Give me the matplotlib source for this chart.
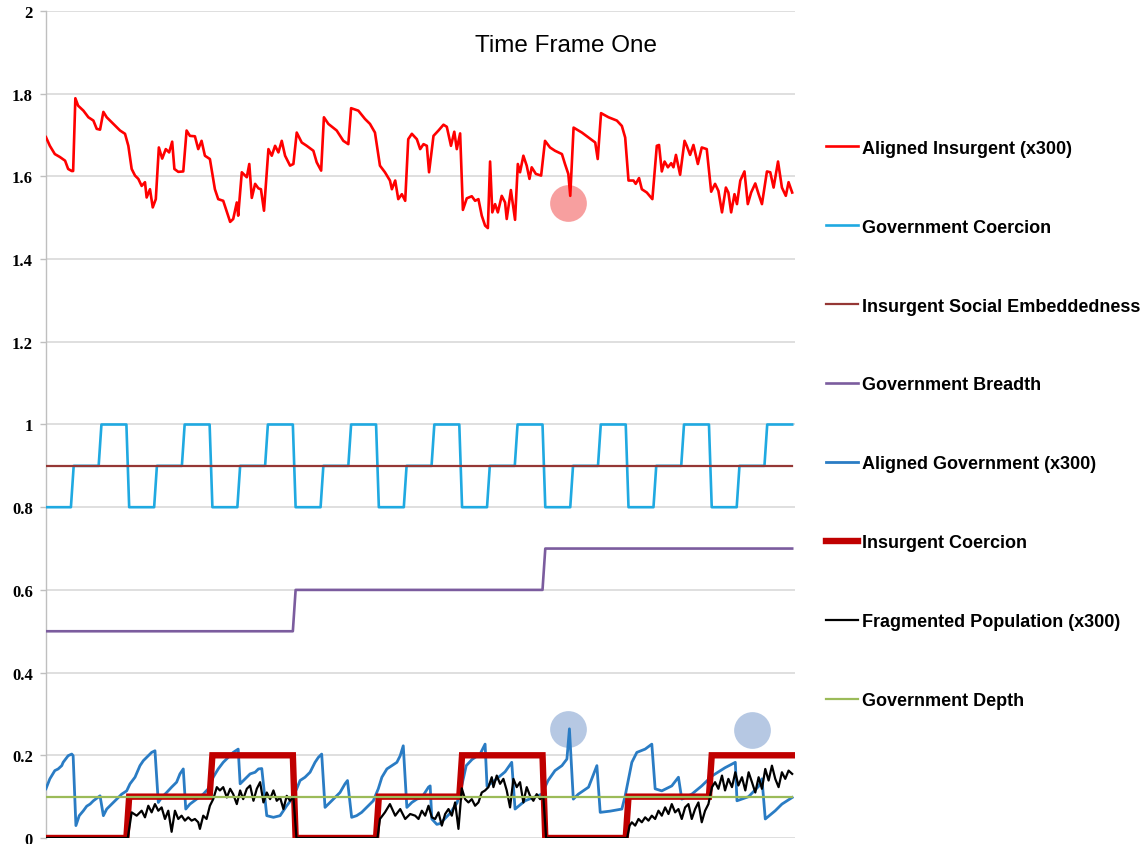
import numpy as np
import matplotlib
matplotlib.use("Agg")
import matplotlib.pyplot as plt

# ---------------- data ----------------
n_steps = 270
title = "Time Frame One"
series_names = ["Aligned Insurgent (x300)", "Government Coercion",
                "Insurgent Social Embeddedness", "Government Breadth",
                "Aligned Government (x300)", "Insurgent Coercion",
                "Fragmented Population (x300)", "Government Depth"]

# step-like policy series: one level per block of steps
gov_coercion_levels = [0.8, 0.9, 1.0, 0.8, 0.9, 1.0, 0.8, 0.9, 1.0,
                       0.8, 0.9, 1.0, 0.8, 0.9, 1.0, 0.8, 0.9, 1.0,
                       0.8, 0.9, 1.0, 0.8, 0.9, 1.0, 0.8, 0.9, 1.0]
gov_coercion_block = 10
insurgent_coercion_levels = [0.0, 0.1, 0.2, 0.0, 0.1, 0.2, 0.0, 0.1, 0.2]
insurgent_coercion_block = 30
gov_breadth_levels = [0.5, 0.6, 0.7]
gov_breadth_block = 90
social_embeddedness_level = 0.9
gov_depth_level = 0.1

# Aligned Insurgent (x300)
ai_t = [0, 1.4, 3.2, 5.0, 6.9, 8.0, 9.3, 9.8, 10.6, 11.6, 13.5, 15.3, 17.1, 18.3, 19.5,
        20.7, 21.9, 24.3, 26.7, 28.5, 29.7, 30.9, 32.1, 33.3, 34.5, 35.7, 36.3, 37.5,
        38.5, 39.6, 40.7, 41.9, 43.2, 44.4, 45.5, 46.3, 47.7, 49.5, 50.7, 51.9, 53.7,
        54.9, 56.1, 57.3, 59.1, 60.9, 62.1, 63.9, 66.4, 67.5, 68.8, 69.3, 70.6, 72.4,
        73.3, 74.2, 75.4, 76.6, 77.5, 78.6, 80.2, 81.4, 82.6, 83.8, 85.0, 86.2, 88.0,
        89.2, 90.4, 92.2, 94.0, 96.4, 97.6, 99.2, 100.2, 101.8, 104.8, 107.2, 109.0,
        110.0, 112.6, 115.0, 116.8, 118.6, 120.4, 122.2, 124.0, 124.7, 125.9, 127.0,
        128.3, 129.5, 130.6, 131.9, 133.7, 134.9, 136.1, 137.3, 138.1, 139.7, 141.5,
        143.3, 144.5, 146.0, 147.2, 148.1, 149.3, 150.3, 151.7, 153.5, 154.7, 155.9,
        157.1, 158.3, 159.3, 160.1, 160.9, 161.9, 162.9, 164.3, 165.5, 166.1, 167.6,
        169.1, 170.1, 170.9, 172.1, 173.3, 174.3, 175.1, 176.6, 178.5, 179.9, 181.7,
        183.5, 186.0, 187.1, 188.3, 189.0, 190.2, 193.2, 195.6, 198.0, 198.9, 200.1,
        202.8, 205.8, 207.6, 208.8, 210.0, 211.8, 212.6, 213.8, 214.8, 216.6, 218.6,
        220.2, 221.0, 222.0, 223.0, 224.2, 225.4, 226.2, 227.1, 228.6, 230.2, 231.0,
        232.2, 233.4, 235.0, 236.4, 238.2, 239.8, 241.2, 242.4, 243.7, 245.1, 246.0,
        247.0, 248.2, 249.1, 250.3, 251.8, 253.0, 254.2, 255.7, 256.9, 258.1, 259.9,
        261.1, 262.3, 263.9, 265.3, 266.7, 267.7, 269.0]
ai_v = [1.695, 1.674, 1.654, 1.647, 1.638, 1.618, 1.613, 1.613, 1.789, 1.771, 1.759, 1.743,
        1.735, 1.715, 1.713, 1.756, 1.743, 1.727, 1.711, 1.703, 1.674, 1.618, 1.602, 1.594,
        1.577, 1.586, 1.549, 1.569, 1.525, 1.545, 1.670, 1.643, 1.666, 1.658, 1.684, 1.618,
        1.611, 1.612, 1.711, 1.698, 1.697, 1.666, 1.686, 1.650, 1.642, 1.569, 1.545, 1.541,
        1.490, 1.497, 1.537, 1.505, 1.610, 1.598, 1.630, 1.548, 1.582, 1.571, 1.569, 1.517,
        1.666, 1.650, 1.674, 1.658, 1.686, 1.650, 1.626, 1.630, 1.706, 1.682, 1.674, 1.662,
        1.634, 1.614, 1.743, 1.727, 1.711, 1.686, 1.678, 1.765, 1.759, 1.739, 1.727, 1.706,
        1.626, 1.610, 1.590, 1.569, 1.590, 1.545, 1.557, 1.541, 1.690, 1.703, 1.690, 1.666,
        1.678, 1.674, 1.610, 1.698, 1.711, 1.725, 1.720, 1.674, 1.708, 1.666, 1.704, 1.519,
        1.547, 1.552, 1.541, 1.545, 1.505, 1.481, 1.475, 1.636, 1.513, 1.533, 1.513, 1.553,
        1.537, 1.497, 1.567, 1.495, 1.630, 1.610, 1.650, 1.626, 1.594, 1.622, 1.606, 1.602,
        1.686, 1.670, 1.662, 1.654, 1.630, 1.606, 1.553, 1.718, 1.706, 1.694, 1.682, 1.642,
        1.753, 1.743, 1.735, 1.722, 1.694, 1.590, 1.590, 1.582, 1.596, 1.569, 1.561, 1.545,
        1.674, 1.676, 1.612, 1.636, 1.622, 1.632, 1.622, 1.652, 1.604, 1.686, 1.674, 1.652,
        1.676, 1.630, 1.670, 1.666, 1.563, 1.582, 1.565, 1.513, 1.573, 1.561, 1.513, 1.557,
        1.533, 1.590, 1.612, 1.533, 1.561, 1.583, 1.557, 1.533, 1.612, 1.610, 1.573, 1.636,
        1.573, 1.553, 1.586, 1.561]

# Aligned Government (x300)
ag_t = [0, 1.4, 3.2, 4.4, 5.7, 6.2, 8.0, 9.3, 9.8, 10.8, 12.0, 13.5, 14.7, 15.9, 17.1, 18.3,
        19.5, 20.7, 21.9, 23.7, 25.5, 27.3, 29.1, 30.3, 32.1, 33.9, 35.1, 36.3, 38.1, 39.3,
        40.5, 41.7, 43.5, 45.3, 47.1, 48.3, 49.5, 50.4, 51.9, 54.3, 56.7, 58.5, 60.3, 62.1,
        63.9, 65.7, 67.5, 69.3, 70.0, 71.8, 73.6, 75.4, 76.6, 77.8, 79.6, 82.0, 84.4, 86.8,
        88.6, 90.4, 91.6, 93.4, 95.2, 97.0, 98.2, 99.4, 100.6, 102.4, 104.2, 106.0, 107.8,
        108.7, 110.2, 112.0, 113.8, 115.6, 118.0, 119.8, 121.1, 122.9, 124.7, 126.5, 127.7,
        128.8, 130.1, 131.9, 133.7, 135.5, 137.9, 138.5, 139.1, 140.9, 142.1, 145.7, 148.2,
        150.0, 151.5, 153.6, 156.5, 158.3, 159.0, 161.9, 165.5, 167.9, 169.1, 172.7, 178.7,
        181.0, 183.5, 186.0, 187.8, 188.7, 190.1, 191.9, 195.6, 198.6, 199.8, 203.4, 207.6,
        208.8, 211.2, 213.0, 216.0, 218.4, 219.6, 222.0, 225.6, 228.0, 229.2, 232.8, 236.4,
        240.1, 244.8, 248.5, 249.1, 253.3, 256.9, 258.1, 259.3, 262.9, 265.3, 269.0]
ag_v = [0.119, 0.143, 0.163, 0.167, 0.175, 0.183, 0.199, 0.203, 0.199, 0.030, 0.054, 0.066,
        0.077, 0.082, 0.090, 0.096, 0.102, 0.054, 0.070, 0.082, 0.094, 0.106, 0.114, 0.131,
        0.147, 0.175, 0.187, 0.195, 0.207, 0.211, 0.086, 0.098, 0.110, 0.123, 0.135, 0.155,
        0.167, 0.070, 0.082, 0.094, 0.106, 0.119, 0.147, 0.167, 0.183, 0.195, 0.207, 0.215,
        0.131, 0.143, 0.155, 0.159, 0.167, 0.168, 0.054, 0.050, 0.054, 0.078, 0.094, 0.119,
        0.139, 0.147, 0.159, 0.183, 0.195, 0.203, 0.074, 0.086, 0.098, 0.110, 0.131, 0.139,
        0.050, 0.054, 0.062, 0.074, 0.090, 0.119, 0.147, 0.167, 0.175, 0.183, 0.199, 0.223,
        0.074, 0.086, 0.094, 0.098, 0.123, 0.126, 0.046, 0.033, 0.035, 0.060, 0.085, 0.130,
        0.175, 0.190, 0.203, 0.227, 0.125, 0.140, 0.160, 0.183, 0.070, 0.090, 0.106, 0.139,
        0.163, 0.175, 0.191, 0.264, 0.094, 0.106, 0.123, 0.175, 0.062, 0.065, 0.070, 0.102,
        0.183, 0.207, 0.215, 0.227, 0.119, 0.114, 0.126, 0.147, 0.094, 0.106, 0.126, 0.150,
        0.170, 0.183, 0.090, 0.100, 0.125, 0.143, 0.046, 0.066, 0.082, 0.098]

# Fragmented Population (x300)
fp_t = [0, 29.5, 30.9, 32.7, 34.5, 35.7, 36.9, 38.1, 39.3, 40.5, 41.7, 42.9, 44.1, 45.3,
        46.5, 47.7, 48.9, 50.1, 51.3, 52.5, 53.7, 54.9, 55.5, 56.7, 57.9, 59.1, 60.3, 61.6,
        62.7, 63.9, 65.2, 66.4, 67.5, 68.8, 70.0, 71.1, 72.4, 73.6, 74.8, 76.0, 77.2, 78.4,
        79.6, 80.8, 82.0, 83.2, 84.4, 85.6, 86.8, 88.0, 89.2, 90.3, 119.5, 120.4, 122.2,
        124.0, 125.9, 127.7, 129.5, 131.3, 133.1, 134.3, 135.5, 136.7, 137.9, 139.1, 140.3,
        141.5, 142.7, 143.9, 145.1, 146.3, 147.5, 148.7, 149.9, 151.1, 152.3, 153.5, 154.7,
        155.9, 157.1, 158.3, 159.5, 160.7, 161.3, 162.5, 163.7, 164.9, 166.1, 167.3, 168.5,
        169.7, 170.9, 172.1, 173.3, 174.5, 175.7, 176.9, 178.1, 179.3, 180.3, 209.5, 210.4,
        211.2, 212.4, 213.6, 214.8, 216.0, 217.2, 218.4, 219.6, 220.8, 222.0, 223.2, 224.4,
        225.6, 226.8, 228.0, 229.2, 230.4, 231.6, 232.8, 234.0, 235.2, 236.4, 237.6, 238.8,
        240.1, 241.2, 242.4, 243.7, 244.8, 246.0, 247.3, 248.5, 249.6, 250.9, 252.1, 253.3,
        254.5, 255.7, 256.9, 258.1, 259.3, 260.5, 261.7, 262.9, 264.1, 265.3, 266.5, 267.7,
        269.0]
fp_v = [0.0, 0.0, 0.062, 0.054, 0.066, 0.050, 0.078, 0.062, 0.082, 0.066, 0.074, 0.046,
        0.066, 0.015, 0.066, 0.046, 0.054, 0.042, 0.050, 0.042, 0.046, 0.038, 0.022, 0.054,
        0.046, 0.078, 0.094, 0.123, 0.115, 0.123, 0.098, 0.119, 0.106, 0.082, 0.115, 0.094,
        0.119, 0.127, 0.090, 0.119, 0.135, 0.086, 0.110, 0.094, 0.115, 0.090, 0.098, 0.070,
        0.102, 0.090, 0.100, 0.0, 0.0, 0.046, 0.062, 0.082, 0.054, 0.070, 0.046, 0.058,
        0.054, 0.046, 0.066, 0.054, 0.078, 0.050, 0.046, 0.062, 0.030, 0.058, 0.070, 0.054,
        0.086, 0.022, 0.120, 0.094, 0.086, 0.094, 0.078, 0.086, 0.110, 0.115, 0.123, 0.147,
        0.123, 0.151, 0.131, 0.143, 0.115, 0.074, 0.143, 0.123, 0.135, 0.086, 0.123, 0.102,
        0.090, 0.106, 0.094, 0.100, 0.0, 0.0, 0.030, 0.038, 0.030, 0.046, 0.038, 0.050,
        0.042, 0.054, 0.046, 0.066, 0.054, 0.074, 0.058, 0.082, 0.062, 0.070, 0.046, 0.074,
        0.082, 0.046, 0.070, 0.086, 0.038, 0.066, 0.082, 0.123, 0.135, 0.119, 0.151, 0.115,
        0.143, 0.123, 0.159, 0.127, 0.147, 0.115, 0.159, 0.135, 0.110, 0.147, 0.119, 0.167,
        0.139, 0.175, 0.143, 0.123, 0.159, 0.143, 0.163, 0.155]

# highlighted moments (circles)
ai_highlight_t = [188.2]
ai_highlight_v = [1.536]
ag_highlight_t = [188.2, 254.6]
ag_highlight_v = [0.264, 0.261]

y_ticks = [0, 0.2, 0.4, 0.6, 0.8, 1.0, 1.2, 1.4, 1.6, 1.8, 2.0]
y_tick_labels = ["0", "0.2", "0.4", "0.6", "0.8", "1", "1.2", "1.4", "1.6", "1.8", "2"]

# ---------------- build step series ----------------
steps = np.arange(n_steps)
gov_coercion = np.repeat(gov_coercion_levels, gov_coercion_block)
insurgent_coercion = np.repeat(insurgent_coercion_levels, insurgent_coercion_block)
gov_breadth = np.repeat(gov_breadth_levels, gov_breadth_block)
social_emb = np.full(n_steps, social_embeddedness_level)
gov_depth = np.full(n_steps, gov_depth_level)

# ---------------- plot ----------------
fig = plt.figure(figsize=(11.43, 8.45), dpi=100)
ax = fig.add_axes([0.0402, 0.0071, 0.6553, 0.9787])

ax.set_xlim(0, 270)
ax.set_ylim(0, 2)
ax.set_yticks(y_ticks)
ax.set_yticklabels(y_tick_labels, fontfamily="Liberation Serif", fontweight="bold",
                   fontsize=12)
ax.set_xticks([])
ax.tick_params(axis="y", length=4, width=1, color="#BFBFBF", pad=5.5)
ax.grid(axis="y", color="#D9D9D9", linewidth=1.2, zorder=0)
ax.set_axisbelow(True)
for s in ["top", "right", "bottom"]:
    ax.spines[s].set_visible(False)
ax.spines["left"].set_color("#BFBFBF")
ax.spines["left"].set_linewidth(1.0)

ax.scatter(ai_highlight_t, ai_highlight_v, s=700, color="#F79595", alpha=0.9,
           linewidths=0, zorder=1)
ax.scatter(ag_highlight_t, ag_highlight_v, s=700, color="#A9BFDF", alpha=0.85,
           linewidths=0, zorder=1)

h = []
h += ax.plot(ai_t, ai_v, color="#FF0000", lw=1.9, zorder=3)
h += ax.plot(steps, gov_coercion, color="#1FA9E1", lw=1.9, zorder=4)
h += ax.plot(steps, social_emb, color="#953735", lw=1.6, zorder=5)
h += ax.plot(steps, gov_breadth, color="#7B5C9E", lw=1.9, zorder=6)
h += ax.plot(ag_t, ag_v, color="#2A7CC4", lw=2.0, zorder=7)
h += ax.plot(steps, insurgent_coercion, color="#C00000", lw=4.6, zorder=8,
             solid_joinstyle="miter")
h += ax.plot(fp_t, fp_v, color="#000000", lw=1.6, zorder=9)
h += ax.plot(steps, gov_depth, color="#9BBB59", lw=1.6, zorder=10)

fig.text(0.495, 0.9456, title, ha="center", va="center", fontsize=17.5,
         fontfamily="Liberation Sans")

leg = fig.legend(h, series_names, loc="upper left", bbox_to_anchor=(0.7227, 0.8335),
                 frameon=False, borderpad=0, borderaxespad=0, handlelength=1.75,
                 handletextpad=0.22, labelspacing=3.43,
                 prop={"family": "Liberation Sans", "weight": "bold", "size": 13})

fig.savefig("out.png", dpi=100)
